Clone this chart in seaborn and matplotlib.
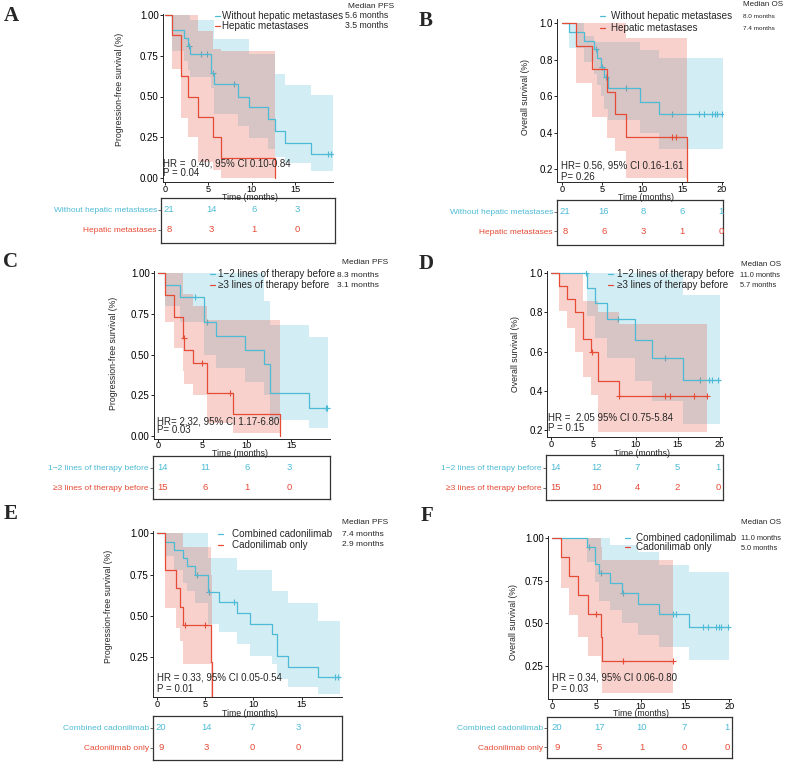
import numpy as np
import matplotlib
matplotlib.use("Agg")
import matplotlib.pyplot as plt
from matplotlib.lines import Line2D
import seaborn as sns

W, H = 787, 764
BLUE = "#4DBBD5"
RED = "#E64B35"

# ---------------- data ----------------
# Panel A : PFS by hepatic metastases
a_blue_t = [0, 0.8, 2.2, 2.7, 2.9, 5.3, 5.6, 8.4, 9.7, 11.9, 12.7, 13.8, 16.9]
a_blue_s = [1, 0.905, 0.857, 0.81, 0.762, 0.647, 0.578, 0.50, 0.433, 0.363, 0.286, 0.214, 0.147]
a_blue_lo = [1, 0.78, 0.72, 0.66, 0.62, 0.55, 0.39, 0.32, 0.245, 0.18, 0.13, 0.09, 0.04]
a_blue_hi = [1, 1, 1, 1, 0.97, 0.97, 0.85, 0.85, 0.76, 0.76, 0.64, 0.57, 0.51]
a_blue_end = 19.4
a_blue_cens = [2.8, 4.1, 4.8, 5.5, 8.0, 18.8, 19.2]
a_red_t = [0, 0.8, 1.8, 2.7, 3.8, 5.5, 6.5, 12.7]
a_red_s = [1, 0.875, 0.625, 0.50, 0.375, 0.25, 0.125, 0]
a_red_lo = [1, 0.67, 0.37, 0.25, 0.10, 0.05, 0, 0]
a_red_hi = [1, 1, 1, 1, 0.90, 0.79, 0.78, 0]
a_red_end = 12.7
a_red_cens = []
a_risk_blue = [21, 14, 6, 3]
a_risk_red = [8, 3, 1, 0]

# Panel B : OS by hepatic metastases
b_blue_t = [0, 0.9, 2.8, 4.0, 4.4, 4.9, 5.3, 5.7, 9.8, 12.1]
b_blue_s = [1, 0.952, 0.905, 0.857, 0.81, 0.762, 0.703, 0.643, 0.57, 0.50]
b_blue_lo = [1, 0.866, 0.79, 0.72, 0.66, 0.60, 0.53, 0.47, 0.40, 0.31]
b_blue_hi = [1, 1, 0.93, 0.90, 0.90, 0.90, 0.90, 0.90, 0.853, 0.81]
b_blue_end = 20.1
b_blue_cens = [4.2, 5.0, 5.5, 8.0, 13.8, 17.1, 17.7, 18.7, 19.1, 19.4, 20.0]
b_red_t = [0, 1.75, 3.75, 5.6, 6.6, 8.0, 15.6]
b_red_s = [1, 0.875, 0.75, 0.625, 0.50, 0.375, 0]
b_red_lo = [1, 0.67, 0.487, 0.37, 0.30, 0.152, 0]
b_red_hi = [1, 1, 1, 1, 1, 0.92, 0]
b_red_end = 15.6
b_red_cens = [13.8, 14.2]
b_risk_blue = [21, 16, 8, 6, 1]
b_risk_red = [8, 6, 3, 1, 0]

# Panel C : PFS by prior lines of therapy
c_blue_t = [0, 0.8, 2.4, 5.2, 6.5, 9.8, 11.9, 12.6, 17.0]
c_blue_s = [1, 0.929, 0.857, 0.703, 0.615, 0.527, 0.44, 0.262, 0.175]
c_blue_lo = [1, 0.80, 0.70, 0.50, 0.42, 0.33, 0.25, 0.10, 0.05]
c_blue_hi = [1, 1, 1, 1, 1, 1, 0.83, 0.68, 0.61]
c_blue_end = 19.2
c_blue_cens = [4.2, 5.5, 18.9, 19.1]
c_red_t = [0, 0.8, 1.8, 2.75, 2.95, 3.9, 5.5, 8.4, 13.8]
c_red_s = [1, 0.867, 0.733, 0.60, 0.53, 0.447, 0.266, 0.135, 0]
c_red_lo = [1, 0.70, 0.54, 0.40, 0.32, 0.25, 0.08, 0.02, 0]
c_red_hi = [1, 1, 1, 0.87, 0.87, 0.80, 0.71, 0.71, 0]
c_red_end = 13.8
c_red_cens = [2.85, 4.9, 8.1]
c_risk_blue = [14, 11, 6, 3]
c_risk_red = [15, 6, 1, 0]

# Panel D : OS by prior lines of therapy
d_blue_t = [0, 4.3, 5.2, 6.6, 9.9, 11.9, 15.6]
d_blue_s = [1, 0.923, 0.846, 0.769, 0.66, 0.57, 0.457]
d_blue_lo = [1, 0.78, 0.67, 0.57, 0.45, 0.35, 0.23]
d_blue_hi = [1, 1, 1, 1, 1, 1, 0.89]
d_blue_end = 20.0
d_blue_cens = [4.2, 7.9, 13.5, 17.6, 18.7, 19.0, 19.8]
d_red_t = [0, 0.9, 1.85, 2.85, 3.8, 4.75, 5.6, 8.0]
d_red_s = [1, 0.933, 0.867, 0.80, 0.667, 0.60, 0.45, 0.375]
d_red_lo = [1, 0.81, 0.72, 0.60, 0.47, 0.38, 0.19, 0.19]
d_red_hi = [1, 1, 1, 1, 0.86, 0.86, 0.80, 0.74]
d_red_end = 18.5
d_red_cens = [4.9, 8.0, 13.5, 14.1, 16.9, 18.5]
d_risk_blue = [14, 12, 7, 5, 1]
d_risk_red = [15, 10, 4, 2, 0]

# Panel E : PFS by regimen
e_blue_t = [0, 0.85, 1.8, 2.7, 3.1, 4.0, 5.3, 6.45, 8.35, 9.65, 11.9, 12.4, 13.6, 16.7]
e_blue_s = [1, 0.95, 0.90, 0.85, 0.80, 0.75, 0.643, 0.587, 0.516, 0.45, 0.39, 0.26, 0.194, 0.133]
e_blue_lo = [1, 0.86, 0.78, 0.70, 0.65, 0.58, 0.45, 0.40, 0.33, 0.26, 0.21, 0.12, 0.07, 0.03]
e_blue_hi = [1, 1, 1, 1, 1, 1, 0.85, 0.85, 0.78, 0.78, 0.65, 0.65, 0.58, 0.47]
e_blue_end = 19.0
e_blue_cens = [4.2, 5.45, 8.0, 18.45, 18.8]
e_red_t = [0, 0.9, 2.0, 2.4, 2.75, 5.6, 5.7]
e_red_s = [1, 0.778, 0.667, 0.556, 0.445, 0.222, 0]
e_red_lo = [1, 0.55, 0.43, 0.35, 0.21, 0, 0]
e_red_hi = [1, 1, 1, 1, 0.92, 0.75, 0]
e_red_end = 5.7
e_red_cens = [2.9, 5.0]
e_risk_blue = [20, 14, 7, 3]
e_risk_red = [9, 3, 0, 0]

# Panel F : OS by regimen
f_blue_t = [0, 3.9, 4.8, 5.3, 6.5, 7.9, 9.7, 12.0, 15.5]
f_blue_s = [1, 0.95, 0.85, 0.795, 0.739, 0.68, 0.613, 0.552, 0.479]
f_blue_lo = [1, 0.86, 0.74, 0.63, 0.58, 0.50, 0.43, 0.36, 0.285]
f_blue_hi = [1, 1, 1, 1, 0.96, 0.96, 0.92, 0.84, 0.80]
f_blue_end = 20.0
f_blue_cens = [4.2, 5.5, 8.0, 13.6, 14.0, 17.0, 17.6, 18.5, 18.8, 19.1, 19.85]
f_red_t = [0, 0.95, 1.9, 2.85, 4.0, 5.5, 5.65]
f_red_s = [1, 0.889, 0.778, 0.667, 0.555, 0.42, 0.277]
f_red_lo = [1, 0.71, 0.55, 0.42, 0.31, 0.20, 0.09]
f_red_hi = [1, 1, 1, 1, 1, 0.95, 0.87]
f_red_end = 13.6
f_red_cens = [4.9, 8.0, 13.6]
f_risk_blue = [20, 17, 10, 7, 1]
f_risk_red = [9, 5, 1, 0, 0]

hep_labels = ["Without hepatic metastases", "Hepatic metastases"]
line_labels = ["1\u22122 lines of therapy before", "\u22653 lines of therapy before"]
cado_labels = ["Combined cadonilimab", "Cadonilimab only"]
pfs_label = "Progression-free survival (%)"
os_label = "Overall survival (%)"

sns.set_theme(style="ticks")
plt.rcParams["font.family"] = ["Liberation Sans", "DejaVu Sans"]
plt.rcParams["axes.linewidth"] = 0.7

fig = plt.figure(figsize=(W / 100, H / 100), dpi=100)


def fx(px):
    return px / W


def fy(py):
    return 1 - py / H


def add_ax(left, top, right, bottom):
    return fig.add_axes([left / W, 1 - bottom / H, (right - left) / W, (bottom - top) / H])


def lims(lo_px, hi_px, ref):
    v1, p1, v2, p2 = ref
    k = (p2 - p1) / (v2 - v1)
    return v1 + (lo_px - p1) / k, v1 + (hi_px - p1) / k


def draw_curve(ax, t, s, lo, hi, end, cens, color):
    xs = list(t) + [end]
    ax.fill_between(xs, list(lo) + [lo[-1]], list(hi) + [hi[-1]], step="post",
                    color=color, alpha=0.25, lw=0)
    sns.lineplot(x=xs, y=list(s) + [s[-1]], drawstyle="steps-post", estimator=None,
                 sort=False, color=color, lw=0.9, ax=ax)
    if cens:
        idx = np.searchsorted(t, cens, side="right") - 1
        sns.scatterplot(x=cens, y=[s[i] for i in idx], marker="+", s=20,
                        color=color, linewidth=0.8, ax=ax)


panels = [
    dict(letter="A", lp=(11, 16), box=(163, 14, 333, 182), xref=(0, 165, 15, 295), yref=(1.0, 15, 0.0, 178),
         yt=[0, 0.25, 0.5, 0.75, 1.0], yfmt="{:.2f}", xt=[0, 5, 10, 15],
         blue=(a_blue_t, a_blue_s, a_blue_lo, a_blue_hi, a_blue_end, a_blue_cens),
         red=(a_red_t, a_red_s, a_red_lo, a_red_hi, a_red_end, a_red_cens),
         labels=hep_labels, ylab=pfs_label, ylab_xy=(119, 89), xlab_xy=(250, 197),
         hr=("HR =  0.40, 95% CI 0.10-0.84", "P = 0.04"), hr_xy=(163, 163, 173),
         leg=(215, 222, 16, 26), med=("Median PFS", "5.6 months", "3.5 months"), med_xy=(348, 345, 6, 16, 26),
         med_fs=(6, 6.3),
         risk=(161, 198, 335, 243), rref=(0, 169, 15, 297), rows=(210, 230), rb=a_risk_blue, rr=a_risk_red),
    dict(letter="B", lp=(426, 21), box=(557, 19, 723, 182), xref=(0, 562, 20, 722), yref=(1.0, 23.3, 0.2, 169),
         yt=[0.2, 0.4, 0.6, 0.8, 1.0], yfmt="{:.1f}", xt=[0, 5, 10, 15, 20],
         blue=(b_blue_t, b_blue_s, b_blue_lo, b_blue_hi, b_blue_end, b_blue_cens),
         red=(b_red_t, b_red_s, b_red_lo, b_red_hi, b_red_end, b_red_cens),
         labels=hep_labels, ylab=os_label, ylab_xy=(525, 97), xlab_xy=(646, 197.5),
         hr=("HR= 0.56, 95% CI 0.16-1.61", "P= 0.26"), hr_xy=(561, 166, 177),
         leg=(600, 611, 16, 28), med=("Median OS", "8.0 months", "7.4 months"), med_xy=(743, 743, 5, 17, 29),
         med_fs=(5.8, 4.6),
         risk=(557, 200, 723, 245), rref=(0, 565, 20, 721), rows=(212, 231), rb=b_risk_blue, rr=b_risk_red),
    dict(letter="C", lp=(11, 262), box=(154, 271, 330, 438.5), xref=(0, 158.3, 15, 291), yref=(1.0, 273.3, 0.0, 436),
         yt=[0, 0.25, 0.5, 0.75, 1.0], yfmt="{:.2f}", xt=[0, 5, 10, 15],
         blue=(c_blue_t, c_blue_s, c_blue_lo, c_blue_hi, c_blue_end, c_blue_cens),
         red=(c_red_t, c_red_s, c_red_lo, c_red_hi, c_red_end, c_red_cens),
         labels=line_labels, ylab=pfs_label, ylab_xy=(113, 353), xlab_xy=(240, 454),
         hr=("HR= 2.32, 95% CI 1.17-6.80", "P= 0.03"), hr_xy=(157, 421, 430),
         leg=(210, 218, 274, 285), med=("Median PFS", "8.3 months", "3.1 months"), med_xy=(342, 337, 263, 275, 285),
         med_fs=(6, 6),
         risk=(153, 456, 330, 499), rref=(0, 163, 15, 289), rows=(468, 488), rb=c_risk_blue, rr=c_risk_red),
    dict(letter="D", lp=(426, 264), box=(547, 271, 722, 437), xref=(0, 551, 20, 720), yref=(1.0, 273.3, 0.2, 430),
         yt=[0.2, 0.4, 0.6, 0.8, 1.0], yfmt="{:.1f}", xt=[0, 5, 10, 15, 20],
         blue=(d_blue_t, d_blue_s, d_blue_lo, d_blue_hi, d_blue_end, d_blue_cens),
         red=(d_red_t, d_red_s, d_red_lo, d_red_hi, d_red_end, d_red_cens),
         labels=line_labels, ylab=os_label, ylab_xy=(515, 354), xlab_xy=(642, 454),
         hr=("HR =  2.05 95% CI 0.75-5.84", "P = 0.15"), hr_xy=(548, 418, 428),
         leg=(608, 617, 274, 285), med=("Median OS", "11.0 months", "5.7 months"), med_xy=(741, 740, 264, 275, 285),
         med_fs=(5.8, 5.3),
         risk=(546, 455, 723, 500), rref=(0, 556, 20, 718), rows=(468, 488), rb=d_risk_blue, rr=d_risk_red),
    dict(letter="E", lp=(11, 514), box=(153, 531, 342, 697), xref=(0, 156.7, 15, 301.7), yref=(1.0, 533.3, 0.25, 657.3),
         yt=[0.25, 0.5, 0.75, 1.0], yfmt="{:.2f}", xt=[0, 5, 10, 15],
         blue=(e_blue_t, e_blue_s, e_blue_lo, e_blue_hi, e_blue_end, e_blue_cens),
         red=(e_red_t, e_red_s, e_red_lo, e_red_hi, e_red_end, e_red_cens),
         labels=cado_labels, ylab=pfs_label, ylab_xy=(108, 606), xlab_xy=(250, 713),
         hr=("HR = 0.33, 95% CI 0.05-0.54", "P = 0.01"), hr_xy=(157, 677, 689),
         leg=(218, 232, 534, 545), med=("Median PFS", "7.4 months", "2.9 months"), med_xy=(342, 342, 523, 534, 545),
         med_fs=(6, 6),
         risk=(153, 716, 342, 760), rref=(0, 161, 15, 298), rows=(728, 748), rb=e_risk_blue, rr=e_risk_red),
    dict(letter="F", lp=(427, 516), box=(548, 536, 731, 699), xref=(0, 552.3, 20, 729.3), yref=(1.0, 538.3, 0.25, 665.7),
         yt=[0.25, 0.5, 0.75, 1.0], yfmt="{:.2f}", xt=[0, 5, 10, 15, 20],
         blue=(f_blue_t, f_blue_s, f_blue_lo, f_blue_hi, f_blue_end, f_blue_cens),
         red=(f_red_t, f_red_s, f_red_lo, f_red_hi, f_red_end, f_red_cens),
         labels=cado_labels, ylab=os_label, ylab_xy=(513, 622), xlab_xy=(641, 714),
         hr=("HR = 0.34, 95% CI 0.06-0.80", "P = 0.03"), hr_xy=(552, 678, 689),
         leg=(625, 636, 538, 547), med=("Median OS", "11.0 months", "5.0 months"), med_xy=(741, 741, 523, 538, 548),
         med_fs=(5.8, 5.3),
         risk=(547, 717, 732, 758), rref=(0, 557, 20, 727), rows=(728, 747), rb=f_risk_blue, rr=f_risk_red),
]

for p in panels:
    l, t, r, b = p["box"]
    ax = add_ax(l, t, r, b)
    draw_curve(ax, *p["blue"], BLUE)
    draw_curve(ax, *p["red"], RED)
    ax.set_xlim(*lims(l, r, p["xref"]))
    ax.set_ylim(*lims(b, t, p["yref"]))
    ax.set_xticks(p["xt"])
    ax.set_xticklabels([str(v) for v in p["xt"]])
    ax.set_yticks(p["yt"])
    ax.set_yticklabels([p["yfmt"].format(v) for v in p["yt"]])
    ax.tick_params(labelsize=7, length=2, width=0.6, pad=1, colors="black")
    ax.tick_params(axis="x", pad=0, labelsize=6.6)
    ax.set_xlabel("")
    ax.set_ylabel("")
    sns.despine(ax=ax)
    ax.set_facecolor("none")

    fig.text(fx(p["ylab_xy"][0]), fy(p["ylab_xy"][1]), p["ylab"], rotation=90,
             ha="center", va="center", fontsize=6.3)
    fig.text(fx(p["xlab_xy"][0]), fy(p["xlab_xy"][1]), "Time (months)",
             ha="center", va="center", fontsize=6.3)
    hx, hy1, hy2 = p["hr_xy"]
    fig.text(fx(hx), fy(hy1), p["hr"][0], ha="left", va="center", fontsize=7)
    fig.text(fx(hx), fy(hy2), p["hr"][1], ha="left", va="center", fontsize=7)

    # legend
    x_h, x_t, y1, y2 = p["leg"]
    for yy, col, lab in [(y1, BLUE, p["labels"][0]), (y2, RED, p["labels"][1])]:
        fig.add_artist(Line2D([fx(x_h), fx(x_h + 5)], [fy(yy), fy(yy)], color=col, lw=0.9))
        fig.text(fx(x_t), fy(yy), lab, ha="left", va="center", fontsize=7.1)
    mx1, mx2, my0, my1, my2 = p["med_xy"]
    fig.text(fx(mx1), fy(my0), p["med"][0], ha="left", va="center", fontsize=p["med_fs"][0])
    fig.text(fx(mx2), fy(my1), p["med"][1], ha="left", va="center", fontsize=p["med_fs"][1])
    fig.text(fx(mx2), fy(my2), p["med"][2], ha="left", va="center", fontsize=p["med_fs"][1])

    fig.text(fx(p["lp"][0]), fy(p["lp"][1]), p["letter"], ha="center", va="center",
             fontsize=15, fontweight="bold", family=["Liberation Serif", "DejaVu Serif"])

    # risk table
    rl, rt, rr_, rb_ = p["risk"]
    rax = add_ax(rl, rt, rr_, rb_)
    rax.set_xlim(*lims(rl, rr_, p["rref"]))
    r1, r2 = p["rows"]
    rax.set_ylim(*lims(rb_, rt, (1, r1, 0, r2)))
    for tt, nb, nr in zip(p["xt"], p["rb"], p["rr"]):
        rax.text(tt, 1, str(nb), ha="center", va="center", color=BLUE, fontsize=6.8)
        rax.text(tt, 0, str(nr), ha="center", va="center", color=RED, fontsize=6.8)
    rax.set_xticks([])
    rax.set_yticks([1, 0])
    rax.set_yticklabels(p["labels"], fontsize=6)
    for tl, col in zip(rax.get_yticklabels(), [BLUE, RED]):
        tl.set_color(col)
    rax.tick_params(axis="y", length=2, width=0.6, pad=1, color="#555555")
    for sp in rax.spines.values():
        sp.set_visible(True)
        sp.set_linewidth(0.9)
        sp.set_color("#333333")

fig.savefig("out.png", dpi=100)
